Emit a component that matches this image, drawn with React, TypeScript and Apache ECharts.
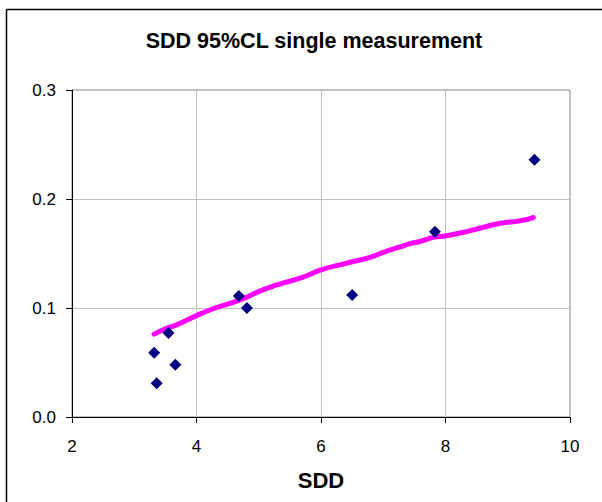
import React, { useEffect, useRef } from "react";
import * as echarts from "echarts";

const TITLE = "SDD 95%CL single measurement";
const X_AXIS_NAME = "SDD";

// Scatter measurements (SDD, value)
const pointX = [3.32, 3.36, 3.55, 3.66, 4.68, 4.81, 6.5, 7.83, 9.43];
const pointY = [0.059, 0.031, 0.077, 0.048, 0.111, 0.1, 0.112, 0.17, 0.236];

// 95% CL curve
const curveX = [3.32, 3.5, 3.7, 4.0, 4.3, 4.68, 5.0, 5.18, 5.34, 5.7, 6.0, 6.4, 6.79, 7.0, 7.27, 7.43, 7.59, 7.82, 8.0, 8.4, 8.88, 9.2, 9.41];
const curveY = [0.076, 0.081, 0.085, 0.093, 0.1, 0.107, 0.115, 0.119, 0.122, 0.128, 0.135, 0.141, 0.1465, 0.151, 0.156, 0.159, 0.161, 0.165, 0.166, 0.171, 0.1777, 0.18, 0.183];

export default function App() {
  const ref = useRef<HTMLDivElement>(null);
  useEffect(() => {
    if (!ref.current) return;
    const chart = echarts.init(ref.current, null, { renderer: "svg" });
    const font = "'Liberation Sans', Arial, sans-serif";
    chart.setOption({
      animation: false,
      backgroundColor: "#ffffff",
      title: {
        text: TITLE,
        left: 309,
        top: 25,
        textAlign: "center",
        textStyle: { fontFamily: font, fontSize: 21.5, fontWeight: "bold", color: "#000" },
      },
      grid: {
        left: 72, right: 32, top: 90, bottom: 85,
        containLabel: false,
        outerBoundsMode: "none",
        show: true, borderColor: "#808080", borderWidth: 1, backgroundColor: "transparent",
      },
      xAxis: {
        type: "value",
        min: 2,
        max: 10,
        interval: 2,
        name: X_AXIS_NAME,
        nameLocation: "middle",
        nameGap: 52,
        nameTextStyle: { fontFamily: font, fontSize: 22, fontWeight: "bold", color: "#000" },
        axisLine: { show: true, lineStyle: { color: "#000", width: 1 } },
        axisTick: { show: true, inside: false, length: 6, lineStyle: { color: "#000" } },
        axisLabel: { fontFamily: font, fontSize: 17, color: "#000", margin: 21 },
        splitLine: { show: true, lineStyle: { color: "#c0c0c0", width: 1 } },
      },
      yAxis: {
        type: "value",
        min: 0,
        max: 0.3,
        interval: 0.1,
        axisLine: { show: true, lineStyle: { color: "#000", width: 1 } },
        axisTick: { show: true, inside: false, length: 6, lineStyle: { color: "#000" } },
        axisLabel: { fontFamily: font, fontSize: 17, color: "#000", margin: 16, formatter: (v: number) => v.toFixed(1) },
        splitLine: { show: true, lineStyle: { color: "#c0c0c0", width: 1 } },
      },
      graphic: [
        { type: "line", shape: { x1: 6.5, y1: 9.5, x2: 602, y2: 9.5 }, style: { stroke: "#000", lineWidth: 1.5 } },
        { type: "line", shape: { x1: 6.5, y1: 9.5, x2: 6.5, y2: 502 }, style: { stroke: "#000", lineWidth: 1.5 } },
      ],
      series: [
        {
          type: "line",
          data: curveX.map((x, i) => [x, curveY[i]]),
          showSymbol: false,
          symbol: "none",
          smooth: true,
          lineStyle: { color: "#ff00ff", width: 5, cap: "round", join: "round" },
          z: 2,
        },
        {
          type: "scatter",
          data: pointX.map((x, i) => [x, pointY[i]]),
          symbol: "diamond",
          symbolSize: 12,
          itemStyle: { color: "#000080", opacity: 1 },
          z: 3,
        },
      ],
    });
    return () => chart.dispose();
  }, []);
  return <div ref={ref} style={{ position: "fixed", left: 0, top: 0, width: 602, height: 502 }} />;
}
